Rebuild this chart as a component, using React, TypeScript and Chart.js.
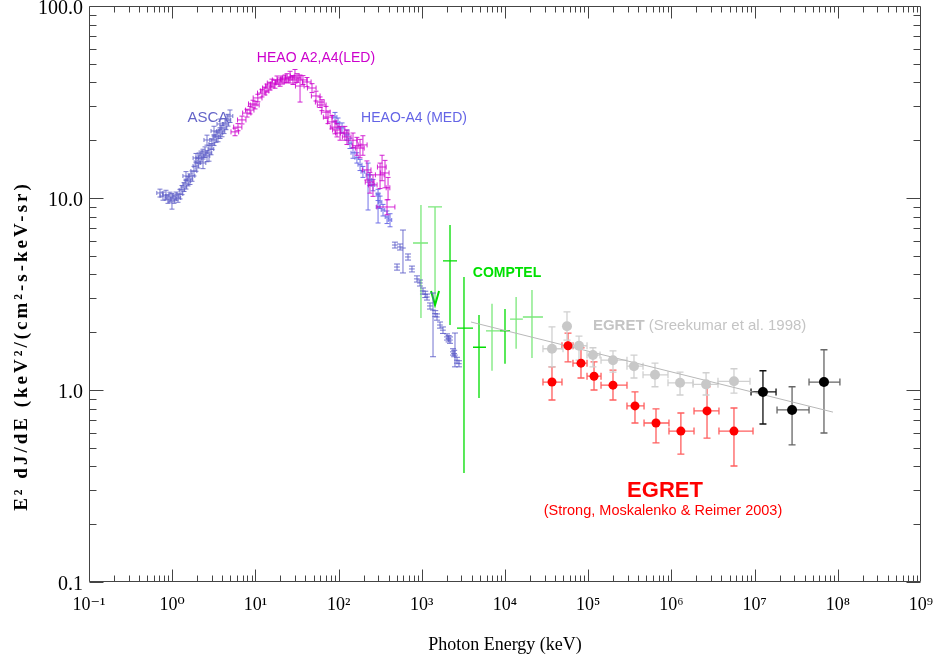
import React, { useEffect, useRef } from 'react';
import { Chart, registerables } from 'chart.js';

Chart.register(...registerables);

// ---------------- data ----------------
const X_TICK_VALUES = [0.1, 1, 10, 100, 1e3, 1e4, 1e5, 1e6, 1e7, 1e8, 1e9];
const X_TICK_LABELS = ['10⁻¹', '10⁰', '10¹', '10²', '10³', '10⁴', '10⁵', '10⁶', '10⁷', '10⁸', '10⁹'];
const Y_TICK_VALUES = [0.1, 1, 10, 100];
const Y_TICK_LABELS = ['0.1', '1.0', '10.0', '100.0'];
const X_TITLE = 'Photon Energy (keV)';
const Y_TITLE = 'E² dJ/dE (keV²/(cm²-s-keV-sr)';

// rows: [energy keV, E² dJ/dE, ±energy, ±value or [low, high]]
const ASCA: any[] = [
  [0.713, 10.62, 0.06, 0.5], [0.775, 10.24, 0.06, 0.5], [0.842, 10.37, 0.07, 0.6], [0.890, 9.88, 0.07, 0.5],
  [0.941, 10.12, 0.08, 0.6], [0.994, 9.65, 0.08, 0.9], [1.051, 9.88, 0.08, 0.5], [1.111, 10.24, 0.09, 0.5],
  [1.174, 10.0, 0.09, 0.5], [1.241, 10.49, 0.10, 0.6], [1.312, 11.01, 0.10, 0.6], [1.386, 11.41, 0.11, 0.6],
  [1.465, 11.83, 0.12, 0.7], [1.465, 13.02, 0.12, 0.7], [1.548, 12.26, 0.12, 0.7], [1.636, 12.56, 0.13, 0.8],
  [1.730, 13.02, 0.14, 0.8], [1.828, 13.82, 0.15, 0.8], [1.932, 14.68, 0.15, 0.9], [1.932, 16.16, 0.15, 0.9],
  [2.042, 15.22, 0.16, 0.9], [2.100, 16.16, 0.17, 1.0], [2.219, 16.55, 0.18, 1.0], [2.346, 16.95, 0.19, 1.0],
  [2.346, 15.22, 0.19, 1.0], [2.479, 17.36, 0.20, 1.1], [2.620, 16.55, 0.21, 1.1], [2.620, 20.05, 0.21, 1.2],
  [2.769, 17.15, 0.22, 1.6], [2.927, 17.99, 0.23, 1.2], [3.009, 19.10, 0.24, 1.2], [3.180, 20.05, 0.25, 1.3],
  [3.180, 22.34, 0.25, 1.3], [3.361, 20.79, 0.27, 1.3], [3.552, 21.03, 0.28, 1.4], [3.754, 21.81, 0.30, 1.4],
  [3.754, 24.29, 0.30, 1.5], [3.968, 22.34, 0.32, 1.5], [4.194, 23.15, 0.34, 1.5], [4.432, 24.29, 0.35, 1.6],
  [4.685, 25.48, 0.37, 1.8], [4.951, 26.73, 0.40, 2.0],
];

const HEAO_LED: any[] = [
  [5.69, 22.1, 0.6, 1.0], [6.18, 23.4, 0.7, 1.0], [6.90, 25.5, 0.8, 1.2], [7.93, 27.7, 0.9, 1.3],
  [8.61, 28.7, 1.0, 1.3], [9.36, 30.9, 1.1, 1.4], [9.89, 30.5, 1.2, 1.4], [10.7, 33.2, 1.3, 1.5],
  [12.0, 35.2, 1.4, 1.6], [13.0, 36.1, 1.5, 1.7], [13.8, 37.4, 1.6, 1.8], [15.0, 38.3, 1.8, 1.8],
  [15.8, 39.7, 1.9, 1.9], [17.2, 39.2, 2.0, 1.9], [18.2, 41.2, 2.2, 2.0], [19.8, 40.2, 2.4, 2.0],
  [20.9, 41.2, 2.5, 2.0], [22.7, 41.7, 2.7, 2.0], [24.0, 42.2, 2.9, 2.2], [26.1, 42.7, 3.1, 3.0],
  [28.3, 41.2, 3.4, 2.2], [29.9, 43.2, 3.6, 3.5], [31.6, 42.2, 3.8, 2.2], [34.4, 38.3, 4.1, [31.6, 43.7]],
  [37.3, 41.2, 4.5, 2.2], [41.7, 40.2, 5.0, 2.2], [47.9, 37.4, 5.7, 2.0], [53.5, 34.0, 6.4, 2.0],
  [59.8, 31.6, 7.2, 2.0], [63.1, 30.5, 7.6, 2.0], [70.6, 28.0, 8.5, 2.0], [74.6, 26.4, 9.0, 2.0],
  [83.3, 24.9, 10, 2.0], [90.5, 23.4, 11, 1.8], [95.7, 22.6, 11, 1.8], [104, 21.8, 12, 1.8],
  [119, 21.8, 14, 1.8], [126, 20.8, 15, 1.8], [149, 20.0, 18, 1.8], [166, 18.7, 20, 2.0],
  [181, 18.2, 22, 2.0], [196, 18.9, 24, 2.2], [219, 14.0, 26, 1.6], [238, 12.1, 29, 1.5],
  [259, 11.7, 31, 1.5], [315, 13.2, 38, 2.0], [333, 14.5, 40, 2.2], [361, 13.5, 43, 2.2],
  [393, 11.3, 20, 1.5], [382, 8.98, 93, 0.8],
];

const HEAO_MED: any[] = [
  [90.5, 26.4, 5, 1.5], [98.4, 24.6, 5, 1.5], [110, 23.2, 6, 1.4], [126, 21.3, 7, 1.3],
  [137, 19.3, 7, 1.2], [149, 17.2, 8, 1.1], [166, 16.2, 9, 1.0], [181, 14.9, 10, 1.0],
  [196, 13.7, 10, 0.9], [226, 13.2, 12, [8.66, 15.2]], [238, 12.4, 12, 0.8], [259, 11.7, 13, 0.8],
  [298, 10.4, 15, 0.7], [298, 8.98, 15, [7.41, 10.6]], [315, 9.53, 16, 0.7], [342, 8.66, 17, 0.6],
  [382, 7.96, 19, 0.6], [415, 7.68, 20, 0.6],
];

const MED_HIGH: any[] = [
  [476, 5.69, 38, 0.2], [504, 4.37, 40, 0.16], [547, 5.56, 44, 0.2], [594, 5.49, 48, [4.07, 6.81]],
  [683, 4.93, 55, 0.18], [762, 4.27, 61, 0.15], [875, 3.79, 70, 0.14], [951, 3.61, 76, 0.13],
  [1033, 3.28, 83, 0.12], [1100, 3.15, 88, 0.12], [1155, 3.05, 92, 0.11], [1255, 2.74, 100, 0.1],
  [1364, 2.61, 109, [1.49, 3.20]], [1450, 2.50, 116, 0.09], [1523, 2.40, 122, 0.09], [1656, 2.18, 132, 0.08],
  [1798, 2.05, 144, 0.08], [2010, 1.89, 161, 0.07], [2100, 1.85, 168, 0.07], [2183, 1.82, 175, 0.07],
  [2373, 1.58, 190, 0.06], [2450, 1.55, 196, 0.06], [2506, 1.52, 200, [1.32, 1.98]], [2650, 1.43, 212, 0.05],
  [2798, 1.37, 224, 0.05],
];

// COMPTEL
const COMPTEL_X = [977, 2183, 3214, 4870, 6980, 10000, 13600, 21100];
const COMPTEL_Y = [5.83, 4.70, 2.10, 1.67, 2.03, 2.03, 2.34, 2.40];
const COMPTEL_X_LO = [784, 1798, 2650, 4125, 5910, 8710, 11500, 16400];
const COMPTEL_X_HI = [1188, 2650, 4125, 5910, 8710, 11500, 16400, 28600];
const COMPTEL_Y_LO = [2.37, 2.18, 0.370, 0.908, 1.26, 1.37, 1.64, 1.47];
const COMPTEL_Y_HI = [9.2, 7.23, 3.88, 2.46, 2.81, 2.64, 3.05, 3.32];
const COMPTEL_BRIGHT = [false, true, true, true, false, true, false, false];
const COMPTEL_LIMIT_X = [1442];
const COMPTEL_LIMIT_Y = [8.98];
const COMPTEL_LIMIT_TO = [2.77];

// power-law line
const FIT_X = [3900, 8.75e7];
const FIT_Y = [2.26, 0.767];

// EGRET Sreekumar et al. 1998
const SREEK_X = [36700, 55600, 77500, 114000, 198600, 355000, 635000, 1.27e6, 2.61e6, 5.65e6];
const SREEK_Y = [1.64, 2.15, 1.70, 1.52, 1.43, 1.33, 1.20, 1.09, 1.07, 1.11];
const SREEK_X_LO = [28600, 52000, 63900, 96800, 142600, 292500, 456000, 910000, 1.82e6, 3.63e6];
const SREEK_X_HI = [49800, 59500, 96800, 138700, 292500, 456000, 910000, 1.82e6, 3.63e6, 8.81e6];
const SREEK_Y_LO = [1.32, 1.82, 1.43, 1.32, 1.24, 1.155, 1.04, 0.942, 0.942, 0.964];
const SREEK_Y_HI = [2.13, 2.55, 1.91, 1.66, 1.60, 1.52, 1.38, 1.24, 1.23, 1.29];

// EGRET Strong, Moskalenko & Reimer 2003
const STRONG_X = [36700, 57200, 81900, 117500, 198600, 365000, 653000, 1.30e6, 2.68e6, 5.65e6];
const STRONG_Y = [1.10, 1.70, 1.38, 1.18, 1.06, 0.826, 0.673, 0.611, 0.778, 0.611];
const STRONG_X_LO = [28600, 48400, 65600, 96800, 142600, 292500, 469000, 935000, 1.87e6, 3.73e6];
const STRONG_X_HI = [48400, 65600, 96800, 142600, 292500, 469000, 935000, 1.87e6, 3.73e6, 9.57e6];
const STRONG_Y_LO = [0.887, 1.40, 1.155, 1.0, 0.887, 0.673, 0.530, 0.464, 0.562, 0.402];
const STRONG_Y_HI = [1.32, 1.98, 1.66, 1.40, 1.27, 0.977, 0.797, 0.759, 1.04, 0.806];

// highest energy points
const HI_X = [1.26e7, 2.82e7, 6.82e7];
const HI_Y = [0.977, 0.787, 1.10];
const HI_X_LO = [9.06e6, 1.86e7, 4.51e7];
const HI_X_HI = [1.81e7, 4.51e7, 1.06e8];
const HI_Y_LO = [0.665, 0.518, 0.597];
const HI_Y_HI = [1.26, 1.04, 1.62];

// ---------------- helpers ----------------
const rowsToPoints = (rows: any[]) =>
  rows.map(([x, y, ex, ey]) => ({
    x, y,
    xMin: x - ex, xMax: x + ex,
    yMin: Array.isArray(ey) ? ey[0] : y - ey,
    yMax: Array.isArray(ey) ? ey[1] : y + ey,
  }));

const zipPoints = (xs: number[], ys: number[], xl: number[], xh: number[], yl: number[], yh: number[]) =>
  xs.map((x, i) => ({ x, y: ys[i], xMin: xl[i], xMax: xh[i], yMin: yl[i], yMax: yh[i] }));

const SERIF = '"Liberation Serif", "Times New Roman", "DejaVu Serif", serif';
const SANS = '"Liberation Sans", Arial, Helvetica, sans-serif';

const ANNOTATIONS = [
  { parts: [{ t: 'ASCA', f: `15px ${SANS}` }], x: 2.69, y: 26.1, color: '#6464c8', align: 'center' },
  { parts: [{ t: 'HEAO A2,A4(LED)', f: `14px ${SANS}` }], x: 53.5, y: 53.6, color: '#cc00cc', align: 'center' },
  { parts: [{ t: 'HEAO-A4 (MED)', f: `14px ${SANS}` }], x: 806, y: 26.1, color: '#6464e6', align: 'center' },
  { parts: [{ t: 'COMPTEL', f: `bold 14px ${SANS}` }], x: 10570, y: 4.07, color: '#00e000', align: 'center' },
  {
    parts: [
      { t: 'EGRET', f: `bold 15px ${SANS}` },
      { t: ' (Sreekumar et al. 1998)', f: `15px ${SANS}` },
    ],
    x: 114000, y: 2.15, color: '#c4c4c4', align: 'left',
  },
  { parts: [{ t: 'EGRET', f: `bold 22px ${SANS}` }], x: 838000, y: 0.298, color: '#ff0000', align: 'center' },
  { parts: [{ t: '(Strong, Moskalenko & Reimer 2003)', f: `14.5px ${SANS}` }], x: 792000, y: 0.234, color: '#ff0000', align: 'center' },
];

// ---------------- plugins ----------------
const errorBarPlugin = {
  id: 'errorBars',
  beforeDatasetsDraw(chart: any) {
    const { ctx, scales, chartArea } = chart;
    const xs = scales.x, ys = scales.y;
    ctx.save();
    ctx.beginPath();
    ctx.rect(chartArea.left, chartArea.top, chartArea.right - chartArea.left, chartArea.bottom - chartArea.top);
    ctx.clip();
    chart.data.datasets.forEach((ds: any, di: number) => {
      const eb = ds.errorBars;
      if (!eb || !chart.isDatasetVisible(di)) return;
      ctx.lineWidth = eb.width ?? 1;
      ds.data.forEach((p: any, j: number) => {
        ctx.strokeStyle = Array.isArray(eb.color) ? eb.color[j] : eb.color;
        const px = xs.getPixelForValue(p.x);
        const py = ys.getPixelForValue(p.y);
        ctx.beginPath();
        if (p.limitTo != null) {
          const yTop = ys.getPixelForValue(p.y), yBot = ys.getPixelForValue(p.limitTo);
          ctx.moveTo(px, yTop); ctx.lineTo(px, yBot);
          ctx.moveTo(px - 7, yTop); ctx.lineTo(px + 7, yTop);
          ctx.stroke();
          ctx.beginPath();
          ctx.strokeStyle = eb.arrowColor || ctx.strokeStyle;
          ctx.lineWidth = 2;
          ctx.moveTo(px - 4, yBot - 14); ctx.lineTo(px, yBot); ctx.lineTo(px + 4, yBot - 14);
          ctx.stroke();
          ctx.lineWidth = eb.width ?? 1;
          return;
        }
        if (p.xMin != null && p.xMax != null) {
          const x1 = xs.getPixelForValue(p.xMin), x2 = xs.getPixelForValue(p.xMax);
          ctx.moveTo(x1, py); ctx.lineTo(x2, py);
          if (eb.capX) {
            ctx.moveTo(x1, py - eb.capX); ctx.lineTo(x1, py + eb.capX);
            ctx.moveTo(x2, py - eb.capX); ctx.lineTo(x2, py + eb.capX);
          }
        }
        if (p.yMin != null && p.yMax != null) {
          const y1 = ys.getPixelForValue(p.yMin), y2 = ys.getPixelForValue(p.yMax);
          ctx.moveTo(px, y1); ctx.lineTo(px, y2);
          if (eb.capY) {
            ctx.moveTo(px - eb.capY, y1); ctx.lineTo(px + eb.capY, y1);
            ctx.moveTo(px - eb.capY, y2); ctx.lineTo(px + eb.capY, y2);
          }
        }
        ctx.stroke();
      });
    });
    ctx.restore();
  },
};

const framePlugin = {
  id: 'frameTicks',
  afterDraw(chart: any) {
    const { ctx, chartArea: a, scales } = chart;
    const xs = scales.x, ys = scales.y;
    const L = Math.round(a.left) + 0.5, R = Math.round(a.right) - 0.5;
    const T = Math.round(a.top) + 0.5, B = Math.round(a.bottom) - 0.5;
    ctx.save();
    ctx.strokeStyle = '#444';
    ctx.lineWidth = 1;
    ctx.beginPath();
    ctx.rect(L, T, R - L, B - T);
    for (let d = -1; d <= 8; d++) {
      for (let m = 1; m <= 9; m++) {
        const v = m * Math.pow(10, d);
        const px = Math.round(xs.getPixelForValue(v)) + 0.5;
        const len = m === 1 ? 12 : 6;
        ctx.moveTo(px, B); ctx.lineTo(px, B - len);
        ctx.moveTo(px, T); ctx.lineTo(px, T + len);
      }
    }
    for (let d = -1; d <= 1; d++) {
      for (let m = 1; m <= 9; m++) {
        const v = m * Math.pow(10, d);
        const py = Math.round(ys.getPixelForValue(v)) + 0.5;
        const len = m === 1 ? 14 : 7;
        ctx.moveTo(L, py); ctx.lineTo(L + len, py);
        ctx.moveTo(R, py); ctx.lineTo(R - len, py);
      }
    }
    ctx.stroke();

    // vertical axis title (letter-spaced, as in the original figure)
    ctx.translate(22, 346);
    ctx.rotate(-Math.PI / 2);
    ctx.font = `bold 19px ${SERIF}`;
    try { (ctx as any).letterSpacing = '3px'; } catch (e) { /* ignore */ }
    ctx.textAlign = 'center';
    ctx.textBaseline = 'middle';
    ctx.fillStyle = '#000';
    ctx.fillText(Y_TITLE, 0, 0);
    try { (ctx as any).letterSpacing = '0px'; } catch (e) { /* ignore */ }
    ctx.restore();
  },
};

const annotationPlugin = {
  id: 'textLabels',
  afterDatasetsDraw(chart: any) {
    const { ctx, scales } = chart;
    ctx.save();
    ctx.textBaseline = 'middle';
    ANNOTATIONS.forEach((an: any) => {
      const px = scales.x.getPixelForValue(an.x);
      const py = scales.y.getPixelForValue(an.y);
      let total = 0;
      an.parts.forEach((p: any) => { ctx.font = p.f; total += ctx.measureText(p.t).width; });
      let cx = an.align === 'center' ? px - total / 2 : px;
      ctx.fillStyle = an.color;
      ctx.textAlign = 'left';
      an.parts.forEach((p: any) => {
        ctx.font = p.f;
        ctx.fillText(p.t, cx, py);
        cx += ctx.measureText(p.t).width;
      });
    });
    ctx.restore();
  },
};

// ---------------- component ----------------
export default function App() {
  const ref = useRef<HTMLCanvasElement>(null);

  useEffect(() => {
    document.body.style.margin = '0';
    const comptelPts = zipPoints(COMPTEL_X, COMPTEL_Y, COMPTEL_X_LO, COMPTEL_X_HI, COMPTEL_Y_LO, COMPTEL_Y_HI);
    const datasets: any[] = [
      {
        label: 'EGRET (Strong et al. 2003)',
        data: zipPoints(STRONG_X, STRONG_Y, STRONG_X_LO, STRONG_X_HI, STRONG_Y_LO, STRONG_Y_HI),
        pointRadius: 4.5, pointBackgroundColor: '#ff0000', pointBorderColor: '#ff0000', pointBorderWidth: 0,
        errorBars: { color: 'rgba(255,40,40,0.75)', capX: 3.5, capY: 3.5, width: 1.3 },
        order: 1,
      },
      {
        label: 'High energy',
        data: zipPoints(HI_X, HI_Y, HI_X_LO, HI_X_HI, HI_Y_LO, HI_Y_HI),
        pointRadius: 5, pointBackgroundColor: '#000', pointBorderColor: '#000', pointBorderWidth: 0,
        errorBars: { color: ['#111111', '#666666', '#666666'], capX: 3.5, capY: 3.5, width: 1.3 },
        order: 1,
      },
      {
        label: 'EGRET (Sreekumar et al. 1998)',
        data: zipPoints(SREEK_X, SREEK_Y, SREEK_X_LO, SREEK_X_HI, SREEK_Y_LO, SREEK_Y_HI),
        pointRadius: 5, pointBackgroundColor: '#c8c8c8', pointBorderColor: '#c8c8c8', pointBorderWidth: 0,
        errorBars: { color: '#d0d0d0', capX: 3.5, capY: 3.5, width: 1.3 },
        order: 2,
      },
      {
        label: 'Power law',
        type: 'line',
        data: FIT_X.map((x, i) => ({ x, y: FIT_Y[i] })),
        showLine: true, borderColor: '#b8b8b8', borderWidth: 1, pointRadius: 0, fill: false,
        order: 5,
      },
      {
        label: 'COMPTEL',
        data: comptelPts.filter((_, i) => COMPTEL_BRIGHT[i]),
        pointRadius: 0,
        errorBars: { color: '#00dd00', capX: 0, capY: 0, width: 1.3 },
        order: 3,
      },
      {
        label: 'COMPTEL (light)',
        data: comptelPts.filter((_, i) => !COMPTEL_BRIGHT[i]),
        pointRadius: 0,
        errorBars: { color: '#7be87b', capX: 0, capY: 0, width: 1.3 },
        order: 3,
      },
      {
        label: 'COMPTEL limit',
        data: COMPTEL_LIMIT_X.map((x, i) => ({ x, y: COMPTEL_LIMIT_Y[i], limitTo: COMPTEL_LIMIT_TO[i] })),
        pointRadius: 0,
        errorBars: { color: '#7be87b', arrowColor: '#00dd00', width: 1.3 },
        order: 3,
      },
      {
        label: 'HEAO-A4 (MED)',
        data: rowsToPoints(HEAO_MED),
        pointRadius: 0,
        errorBars: { color: 'rgba(100,100,230,0.9)', capX: 2, capY: 2.5 },
        order: 3,
      },
      {
        label: 'MeV continuum',
        data: rowsToPoints(MED_HIGH),
        pointRadius: 0,
        errorBars: { color: 'rgba(90,90,200,0.85)', capX: 0, capY: 3 },
        order: 3,
      },
      {
        label: 'HEAO A2,A4(LED)',
        data: rowsToPoints(HEAO_LED),
        pointRadius: 0,
        errorBars: { color: 'rgba(204,0,204,0.85)', capX: 2.5, capY: 2.5 },
        order: 4,
      },
      {
        label: 'ASCA',
        data: rowsToPoints(ASCA),
        pointRadius: 0,
        errorBars: { color: 'rgba(96,96,200,0.85)', capX: 2, capY: 2.5 },
        order: 4,
      },
    ];

    const chart = new Chart(ref.current as HTMLCanvasElement, {
      type: 'scatter',
      data: { datasets },
      options: {
        responsive: false,
        animation: false,
        devicePixelRatio: 1,
        layout: { padding: { top: 6, right: 12, bottom: 0, left: 0 } },
        plugins: { legend: { display: false }, tooltip: { enabled: false } },
        scales: {
          x: {
            type: 'logarithmic',
            min: 0.1,
            max: 1e9,
            position: 'bottom',
            grid: { display: false, drawTicks: false },
            border: { display: false },
            afterBuildTicks: (s: any) => { s.ticks = X_TICK_VALUES.map((v) => ({ value: v })); },
            ticks: {
              autoSkip: false, maxRotation: 0, minRotation: 0, padding: 12, color: '#000',
              font: { family: SERIF, size: 18 },
              callback: (v: any) => {
                const i = X_TICK_VALUES.findIndex((t) => Math.abs(Math.log10(t) - Math.log10(Number(v))) < 1e-6);
                return i >= 0 ? X_TICK_LABELS[i] : '';
              },
            },
            title: {
              display: true, text: X_TITLE, color: '#000',
              font: { family: SERIF, size: 18 }, padding: { top: 0, bottom: 4 },
            },
            afterFit: (s: any) => { s.height = 78; s.paddingLeft = 0; s.paddingRight = 0; },
          },
          y: {
            type: 'logarithmic',
            min: 0.1,
            max: 100,
            grid: { display: false, drawTicks: false },
            border: { display: false },
            afterBuildTicks: (s: any) => { s.ticks = Y_TICK_VALUES.map((v) => ({ value: v })); },
            ticks: {
              autoSkip: false, padding: 6, color: '#000', labelOffset: 3,
              font: { family: SERIF, size: 20 },
              callback: (v: any) => {
                const i = Y_TICK_VALUES.findIndex((t) => Math.abs(Math.log10(t) - Math.log10(Number(v))) < 1e-6);
                return i >= 0 ? Y_TICK_LABELS[i] : '';
              },
            },
            title: { display: false, text: Y_TITLE },
            afterFit: (s: any) => { s.width = 89; s.paddingTop = 0; s.paddingBottom = 0; },
          },
        },
      } as any,
      plugins: [errorBarPlugin, annotationPlugin, framePlugin],
    } as any);

    return () => chart.destroy();
  }, []);

  return (
    <div style={{ position: 'absolute', left: 0, top: 0, width: 933, height: 660, background: '#fff' }}>
      <canvas ref={ref} width={933} height={660} style={{ width: 933, height: 660, display: 'block' }} />
    </div>
  );
}
